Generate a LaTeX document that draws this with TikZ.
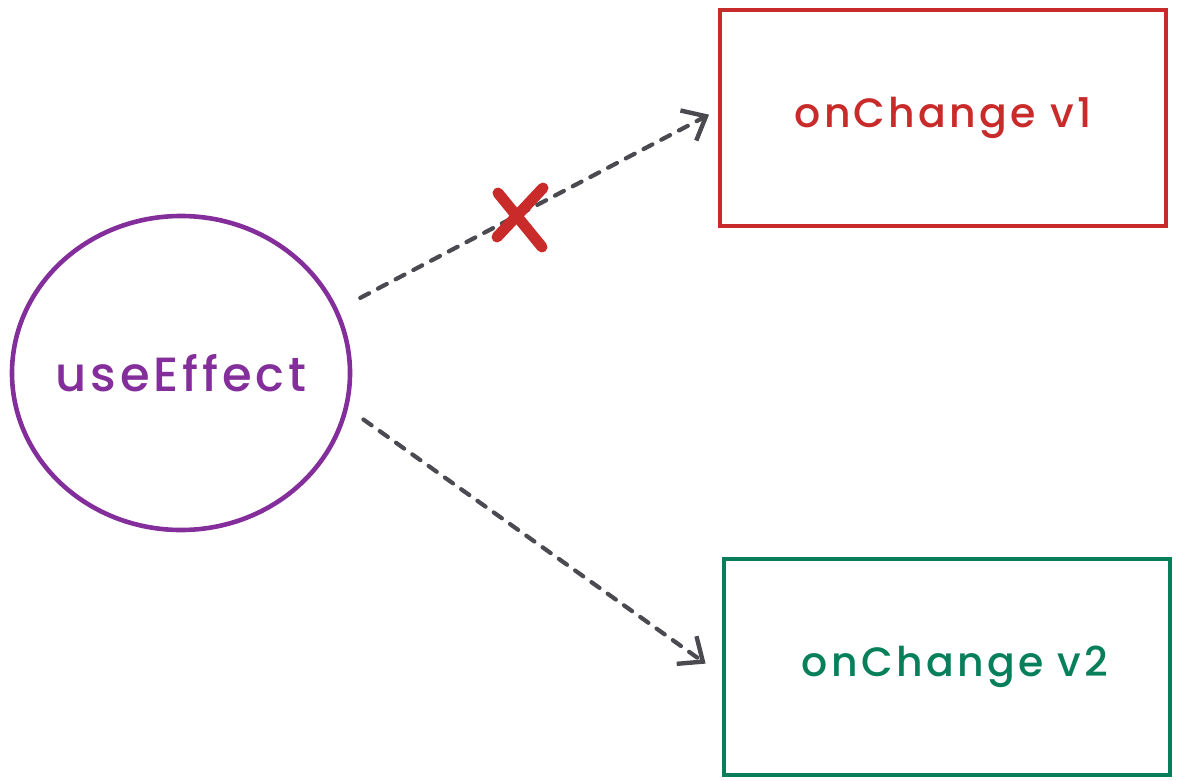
\documentclass[tikz,border=0pt]{standalone}
\usepackage{fontspec}
\setmainfont{Poppins Medium}[LetterSpace=8]
\usetikzlibrary{shapes,shapes.geometric,arrows.meta,positioning}
\definecolor{hookpurple}{HTML}{842E9B}
\definecolor{oldred}{HTML}{C92A2A}
\definecolor{newgreen}{HTML}{087F5B}
\definecolor{edgegray}{HTML}{4A4A50}
\tikzset{
    hookcircle/.style = {draw=hookpurple, text=hookpurple, ellipse, line width=4.6pt, minimum width=338pt, minimum height=314pt, inner xsep=-12pt, inner ysep=0pt, font=\fontsize{48}{56}\selectfont},
    handlerbox/.style = {draw, rectangle, line width=4.2pt, minimum width=446pt, minimum height=216pt, inner sep=0pt},
    flowedge/.style   = {edgegray, line width=4.2pt, dash pattern=on 10pt off 10pt, line cap=round, -{Straight Barb[length=20pt,width=34pt,line width=4.4pt]}},
}

\begin{document}
\begin{tikzpicture}[x=1pt, y=-1pt, font=\fontsize{41}{48}\selectfont]
        \useasboundingbox (0,0) rectangle (1180,781);
        \node[hookcircle](effect) at (181,373){useEffect};
        \node[handlerbox, draw=oldred, text=oldred](v1) at (943,118){onChange v1};
        \node[handlerbox, draw=newgreen, text=newgreen, below=329pt of v1, xshift=4pt](v2){\hspace{16pt}onChange v2};

        \path (effect.22) edge[flowedge, shorten <=25pt, shorten >=10pt] ([yshift=8pt]v1.west);
        \path (effect.-12) edge[flowedge, shorten <=19pt, shorten >=20pt] ([yshift=-8pt]v2.west);

        % the call that no longer happens
        \coordinate (cross) at (520,217);
        \draw[oldred, line width=11pt, line cap=round] ([shift={(-22,-24)}]cross) -- ([shift={(22,30)}]cross);
        \draw[oldred, line width=11pt, line cap=round] ([shift={(23,-29)}]cross) -- ([shift={(-23,20)}]cross);
    \end{tikzpicture}
\end{document}
